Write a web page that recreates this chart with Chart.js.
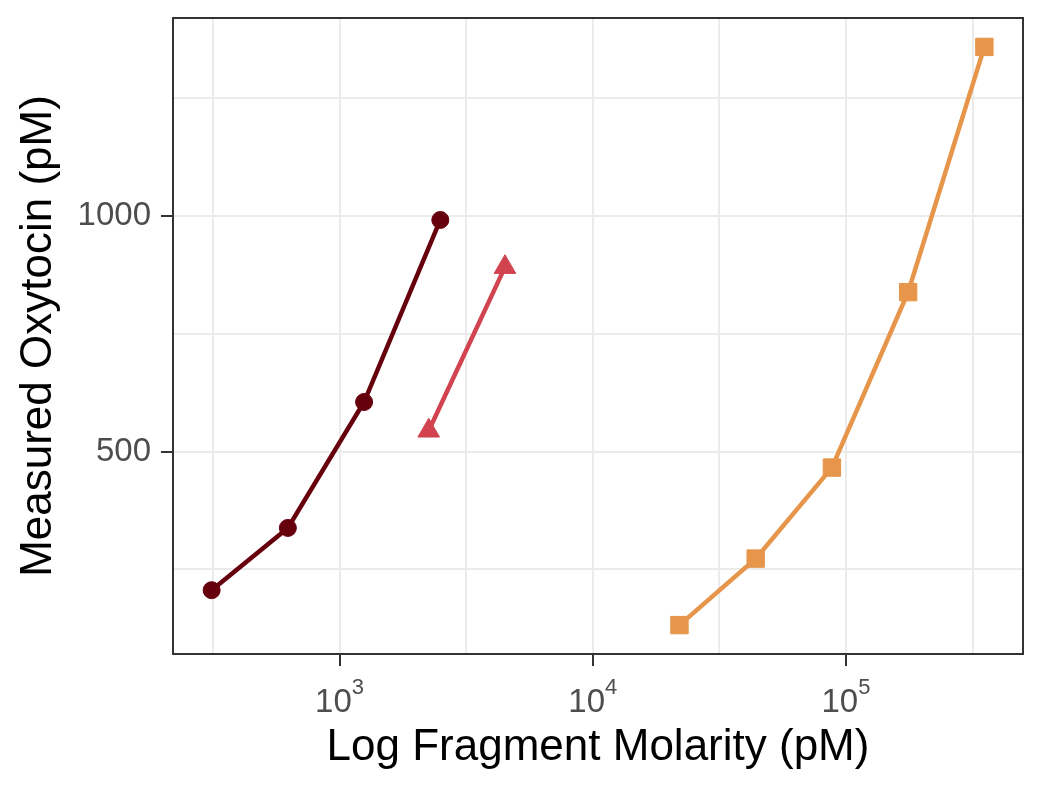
<!DOCTYPE html>
<html><head><meta charset="utf-8">
<script src="https://cdn.jsdelivr.net/npm/chart.js@4.4.1/dist/chart.umd.min.js"></script>
<style>html,body{margin:0;padding:0;background:#fff}canvas{display:block}</style>
</head><body>
<canvas id="c" width="1050" height="787"></canvas>
<script>
// ---- data ----
const circleX = [312.5, 625, 1250, 2500];
const circleY = [206, 338, 605, 991];
const triangleX = [2250, 4500];
const triangleY = [544, 891];
const squareX = [22000, 44000, 88000, 176000, 352000];
const squareY = [132, 273, 466, 838, 1358];
const xMajorExponents = [3, 4, 5];
const xMinorExponents = [2.5, 3.5, 4.5, 5.5];
const yMajorTicks = [500, 1000];
const yMinorTicks = [250, 750, 1250];
const xTitle = 'Log Fragment Molarity (pM)';
const yTitle = 'Measured Oxytocin (pM)';

const FONT = "'Liberation Sans', Arial, sans-serif";
const colors = ['#67000d', '#d1434f', '#e6954a'];

function pts(xs, ys) { return xs.map((x, i) => ({x: x, y: ys[i]})); }

// ggplot-like 5% expansion of the data range
const allX = circleX.concat(triangleX, squareX).map(Math.log10);
const allY = circleY.concat(triangleY, squareY);
const lx0 = Math.min(...allX), lx1 = Math.max(...allX), dx = (lx1 - lx0) * 0.05;
const y0 = Math.min(...allY), y1 = Math.max(...allY), dy = (y1 - y0) * 0.05;

const xGrid = xMajorExponents.concat(xMinorExponents).sort((a, b) => a - b).map(e => Math.pow(10, e));
const yGrid = yMajorTicks.concat(yMinorTicks).sort((a, b) => a - b);

function isMajorX(v) { return xMajorExponents.some(e => Math.abs(Math.log10(v) - e) < 1e-6); }

const panelPlugin = {
  id: 'panel',
  afterDraw(chart) {
    const {ctx, chartArea: a} = chart;
    ctx.save();
    ctx.strokeStyle = '#333333';
    ctx.lineWidth = 2;
    ctx.strokeRect(a.left, a.top, a.right - a.left, a.bottom - a.top);
    // x tick labels with superscript exponents
    const xs = chart.scales.x;
    xMajorExponents.forEach(e => {
      const px = xs.getPixelForValue(Math.pow(10, e));
      ctx.fillStyle = '#4d4d4d';
      ctx.textBaseline = 'alphabetic';
      ctx.textAlign = 'left';
      ctx.font = '33px ' + FONT;
      const baseW = ctx.measureText('10').width;
      ctx.font = '22px ' + FONT;
      const expW = ctx.measureText(String(e)).width;
      const start = px - (baseW + expW) / 2;
      ctx.font = '33px ' + FONT;
      ctx.fillText('10', start, 712);
      ctx.font = '22px ' + FONT;
      ctx.fillText(String(e), start + baseW, 694);
    });
    ctx.restore();
  }
};

new Chart(document.getElementById('c'), {
  type: 'scatter',
  data: {
    datasets: [
      {data: pts(circleX, circleY), showLine: true, borderColor: colors[0], backgroundColor: colors[0],
       borderWidth: 4.5, pointStyle: 'circle', pointRadius: 8.5, pointBorderWidth: 1},
      {data: pts(triangleX, triangleY), showLine: true, borderColor: colors[1], backgroundColor: colors[1],
       borderWidth: 4.5, pointStyle: 'triangle', pointRadius: 12.5, pointBorderWidth: 1},
      {data: pts(squareX, squareY), showLine: true, borderColor: colors[2], backgroundColor: colors[2],
       borderWidth: 4.5, pointStyle: 'rect', pointRadius: 12.3, pointBorderWidth: 1}
    ]
  },
  options: {
    responsive: false,
    animation: false,
    events: [],
    layout: {padding: {top: 18, right: 27, bottom: 0, left: 0}},
    plugins: {legend: {display: false}, tooltip: {enabled: false}},
    scales: {
      x: {
        type: 'logarithmic',
        min: Math.pow(10, lx0 - dx),
        max: Math.pow(10, lx1 + dx),
        afterBuildTicks: s => { s.ticks = xGrid.map(v => ({value: v})); },
        afterFit: s => { s.height = 133; s.paddingLeft = 0; s.paddingRight = 0; s.paddingTop = 0; s.paddingBottom = 0; },
        ticks: {autoSkip: false, maxRotation: 0, callback: () => '', font: {family: FONT, size: 33}},
        grid: {
          color: '#ebebeb', lineWidth: 2, drawTicks: true, tickLength: 12, tickWidth: 2,
          tickColor: c => (c.tick && isMajorX(c.tick.value)) ? '#333333' : 'rgba(0,0,0,0)'
        },
        border: {display: false},
        title: {display: true, text: xTitle, color: '#000000', font: {family: FONT, size: 44}, padding: {top: 0, bottom: 13}}
      },
      y: {
        type: 'linear',
        min: y0 - dy,
        max: y1 + dy,
        afterBuildTicks: s => { s.ticks = yGrid.map(v => ({value: v})); },
        afterFit: s => { s.width = 173; s.paddingLeft = 0; s.paddingRight = 0; s.paddingTop = 0; s.paddingBottom = 0; },
        ticks: {autoSkip: false, padding: 10, color: '#4d4d4d', font: {family: FONT, size: 33},
          callback: v => yMajorTicks.includes(v) ? String(v) : ''},
        grid: {
          color: '#ebebeb', lineWidth: 2, drawTicks: true, tickLength: 12, tickWidth: 2,
          tickColor: c => (c.tick && yMajorTicks.includes(c.tick.value)) ? '#333333' : 'rgba(0,0,0,0)'
        },
        border: {display: false},
        title: {display: true, text: yTitle, color: '#000000', font: {family: FONT, size: 44}, padding: {top: 12, bottom: 0}}
      }
    }
  },
  plugins: [panelPlugin]
});
</script>
</body></html>
